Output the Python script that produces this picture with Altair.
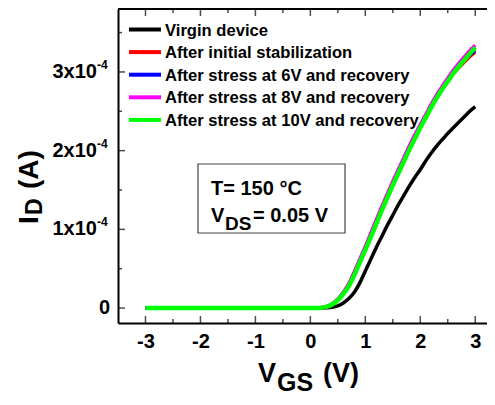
import altair as alt
import pandas as pd

# ---------------- data (I_D in units of 1e-4 A) ----------------
vgs = [-3.0, -2.5, -2.0, -1.5, -1.0, -0.5, 0.0, 0.1, 0.2, 0.3, 0.4, 0.5, 0.6, 0.7, 0.8, 0.9,
       1.0, 1.1, 1.2, 1.3, 1.4, 1.5, 1.6, 1.7, 1.8, 1.9, 2.0, 2.1, 2.2, 2.3, 2.4, 2.5,
       2.6, 2.7, 2.8, 2.9, 3.0]

virgin = [0, 0, 0, 0, 0, 0, 0, 0.0, 0.001, 0.003, 0.01, 0.028, 0.065, 0.12, 0.2, 0.32,
          0.47, 0.62, 0.77, 0.91, 1.05, 1.18, 1.31, 1.43, 1.55, 1.66, 1.76, 1.87, 1.97, 2.06,
          2.14, 2.22, 2.29, 2.36, 2.43, 2.5, 2.56]
initial = [0, 0, 0, 0, 0, 0, 0, 0.001, 0.006, 0.02, 0.054, 0.113, 0.198, 0.31, 0.46, 0.62,
           0.78, 0.95, 1.12, 1.28, 1.44, 1.6, 1.75, 1.9, 2.05, 2.19, 2.32, 2.45, 2.57, 2.68,
           2.79, 2.88, 2.97, 3.05, 3.12, 3.19, 3.25]
stress6 = [0, 0, 0, 0, 0, 0, 0, 0.001, 0.006, 0.02, 0.054, 0.112, 0.196, 0.305, 0.455, 0.615,
           0.775, 0.94, 1.11, 1.27, 1.43, 1.59, 1.74, 1.89, 2.04, 2.18, 2.31, 2.44, 2.56, 2.68,
           2.79, 2.89, 2.98, 3.07, 3.14, 3.21, 3.27]
stress8 = [0, 0, 0, 0, 0, 0, 0, 0.001, 0.006, 0.02, 0.055, 0.115, 0.2, 0.31, 0.46, 0.62,
           0.78, 0.95, 1.12, 1.29, 1.45, 1.61, 1.76, 1.91, 2.06, 2.2, 2.33, 2.46, 2.59, 2.71,
           2.82, 2.92, 3.02, 3.11, 3.19, 3.27, 3.34]
stress10 = [0, 0, 0, 0, 0, 0, 0, 0.001, 0.005, 0.017, 0.048, 0.1, 0.18, 0.28, 0.42, 0.58,
            0.74, 0.9, 1.07, 1.24, 1.4, 1.56, 1.71, 1.86, 2.01, 2.15, 2.29, 2.42, 2.55, 2.67,
            2.78, 2.88, 2.98, 3.07, 3.15, 3.23, 3.31]

series_names = ["Virgin device", "After initial stabilization", "After stress at 6V and recovery",
                "After stress at 8V and recovery", "After stress at 10V and recovery"]
series_values = [virgin, initial, stress6, stress8, stress10]
series_colors = ["#000000", "#ff0000", "#0000ff", "#ff00ff", "#00ff00"]
series_widths = [3.5, 3, 3, 3.5, 4.5]

x_major = [-3, -2, -1, 0, 1, 2, 3]
x_minor = [-2.5, -1.5, -0.5, 0.5, 1.5, 2.5]
y_major = [0, 1, 2, 3]
y_minor = [0.5, 1.5, 2.5, 3.5]
y_labels = ["0", "1x10", "2x10", "3x10"]

W, H = 369, 314
FONT = "Liberation Sans"

xs = alt.Scale(domain=[-3.5, 3.214], nice=False, zero=False)
ys = alt.Scale(domain=[-0.19, 3.80], nice=False, zero=False)

layers = []

# curves
for name, vals, col, sw in zip(series_names, series_values, series_colors, series_widths):
    df = pd.DataFrame({"V": vgs, "I": vals})
    layers.append(
        alt.Chart(df).mark_line(color=col, strokeWidth=sw, interpolate="monotone").encode(
            x=alt.X("V:Q", scale=xs,
                    axis=alt.Axis(values=x_major, title=None, ticks=False, grid=False,
                                  domainColor="black", domainWidth=2,
                                  labelFont=FONT, labelFontSize=20, labelFontWeight="bold",
                                  labelColor="black", labelPadding=8,
                                  labelExpr="'' + datum.value")),
            y=alt.Y("I:Q", scale=ys,
                    axis=alt.Axis(values=y_major, title=None, ticks=False, grid=False, labels=False,
                                  domainColor="black", domainWidth=2)),
        )
    )

# top frame line
layers.append(alt.Chart(pd.DataFrame({"a": [0]})).mark_rule(color="black", strokeWidth=2).encode(
    x=alt.value(0), x2=alt.value(W), y=alt.value(0)))

# inward ticks
def tickdf(vals):
    return pd.DataFrame({"t": vals})

for vals, size in [(x_major, 7), (x_minor, 4)]:
    for ypos in [H - size / 2, size / 2]:
        layers.append(alt.Chart(tickdf(vals)).mark_tick(color="black", thickness=1.5, size=size,
                                                          orient="vertical").encode(
            x=alt.X("t:Q", scale=xs), y=alt.value(ypos)))
for vals, size in [(y_major, 7), (y_minor, 4)]:
    layers.append(alt.Chart(tickdf(vals)).mark_tick(color="black", thickness=1.5, size=size,
                                                      orient="horizontal").encode(
        y=alt.Y("t:Q", scale=ys), x=alt.value(size / 2)))

# y tick labels with superscript exponent
ylab = pd.DataFrame({"t": y_major[1:], "lab": y_labels[1:]})
layers.append(alt.Chart(ylab).mark_text(font=FONT, fontSize=20, fontWeight="bold", align="right",
                                        baseline="middle", color="black").encode(
    y=alt.Y("t:Q", scale=ys), x=alt.value(-21), text="lab:N"))
layers.append(alt.Chart(ylab).mark_text(font=FONT, fontSize=12, fontWeight="bold", align="left",
                                        baseline="middle", color="black", dy=-7).encode(
    y=alt.Y("t:Q", scale=ys), x=alt.value(-21), text=alt.value("-4")))
layers.append(alt.Chart(pd.DataFrame({"t": [0], "lab": [y_labels[0]]})).mark_text(
    font=FONT, fontSize=20, fontWeight="bold", align="right", baseline="middle", color="black").encode(
    y=alt.Y("t:Q", scale=ys), x=alt.value(-8), text="lab:N"))

one = pd.DataFrame({"a": [0]})

def txt(s, x, y, size, angle=0, align="left"):
    return alt.Chart(one).mark_text(text=s, font=FONT, fontSize=size, fontWeight="bold",
                                    align=align, baseline="alphabetic", angle=angle,
                                    color="black").encode(x=alt.value(x), y=alt.value(y))

# axis titles
layers += [txt("V", 140, 373, 27), txt("GS", 159, 382, 25), txt("(V)", 205, 373, 27)]
layers += [txt("I", -80, 215, 28, angle=270), txt("D", -76, 206, 23, angle=270),
           txt("(A)", -80, 180, 28, angle=270)]

# legend
for i, (name, col) in enumerate(zip(series_names, series_colors)):
    yy = 20.5 + i * 22.6
    layers.append(alt.Chart(one).mark_rule(color=col, strokeWidth=4).encode(
        x=alt.value(11), x2=alt.value(43), y=alt.value(yy)))
    layers.append(alt.Chart(one).mark_text(text=name, font=FONT, fontSize=16.6, fontWeight="bold",
                                           align="left", baseline="middle", color="black").encode(
        x=alt.value(47), y=alt.value(yy + 1)))

# annotation box
layers.append(alt.Chart(one).mark_rect(fill="white", fillOpacity=0, stroke="#444444", strokeWidth=1.2).encode(
    x=alt.value(80), x2=alt.value(227), y=alt.value(155), y2=alt.value(224)))
layers += [txt("T= 150 °C", 93, 186, 20), txt("V", 93, 213, 20), txt("DS", 107, 221, 19),
           txt("= 0.05 V", 135, 213, 20)]

chart = alt.layer(*layers).properties(
    width=W, height=H,
    padding={"left": 110, "top": 1, "right": 0, "bottom": 74},
    autosize=alt.AutoSizeParams(type="none"),
).configure_view(stroke=None).configure(background="white")

chart.save("out.html", embed_options={"renderer": "svg", "actions": False})
